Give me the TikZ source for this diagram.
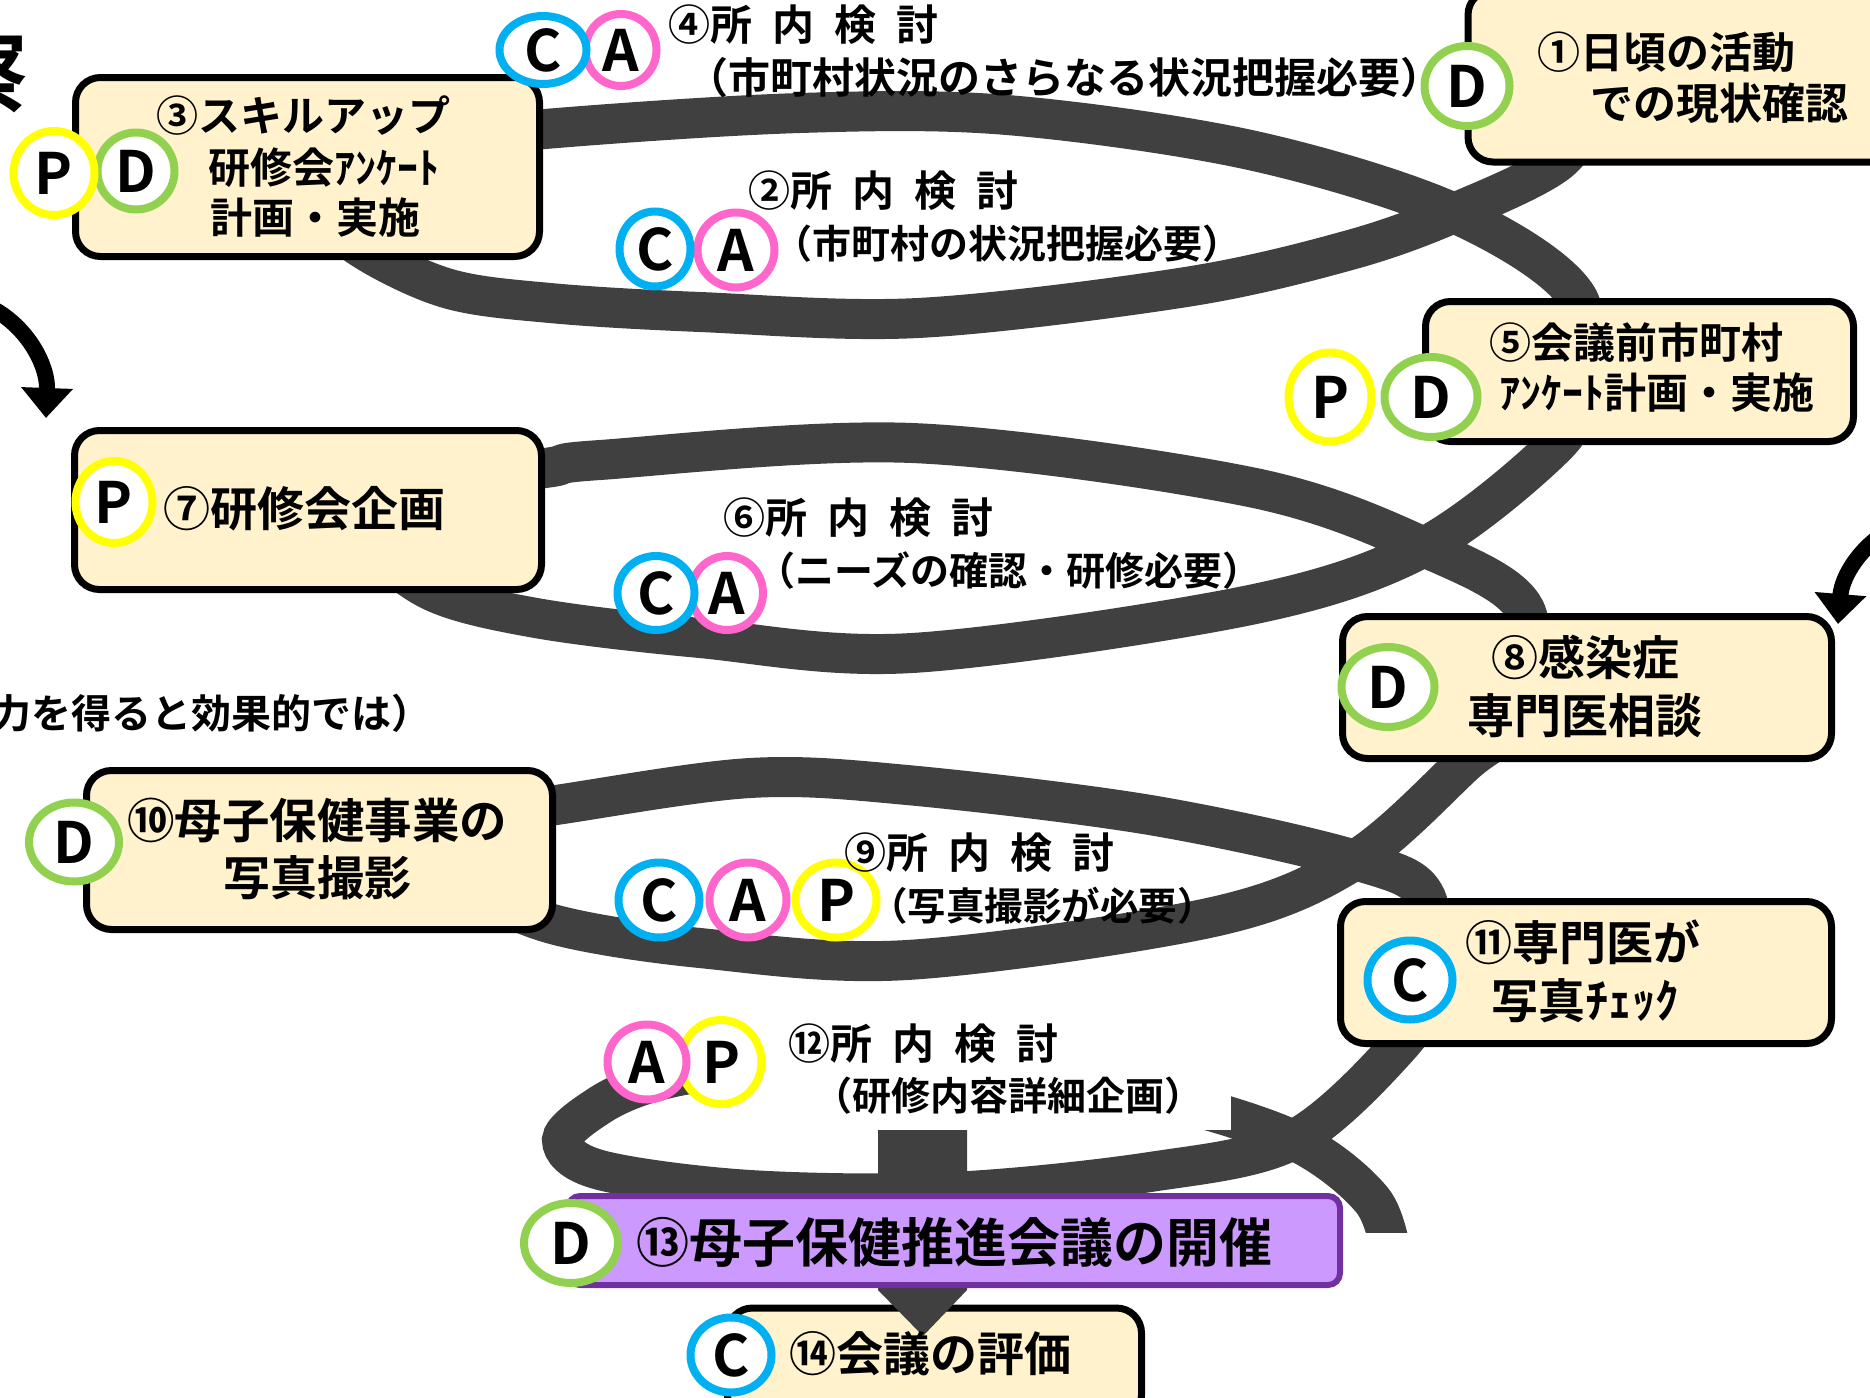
\documentclass[tikz,border=0pt]{standalone}
\usepackage{fontspec}
\newfontfamily\jpb{Noto Sans CJK JP Bold}
\usetikzlibrary{shapes.geometric,arrows.meta}
\definecolor{bandgray}{HTML}{404040}
\definecolor{cream}{HTML}{FFF2CC}
\definecolor{colC}{HTML}{00B0F0}
\definecolor{colA}{HTML}{FF66CC}
\definecolor{colP}{HTML}{FFFF00}
\definecolor{colD}{HTML}{92D050}
\definecolor{lilac}{HTML}{CC99FF}
\definecolor{purp}{HTML}{7030A0}
\newcommand\fsz[1]{\jpb\fontsize{#1}{#1}\selectfont}
\newcommand\kgap{\hspace{20pt}}
\begin{document}
\begin{tikzpicture}[x=1pt,y=-1pt,
  bandline/.style={draw=bandgray, line width=40pt},
  box/.style={draw=black, line width=7pt, fill=cream, rounded corners=25pt, inner sep=0pt},
  pdca/.style={ellipse, draw=#1, line width=8pt, fill=white, inner sep=0pt, font=\fsz{57}},
  lab/.style={inner sep=0pt, anchor=base west},
  labe/.style={inner sep=0pt, anchor=base east},
  blackarrow/.style={draw=black, line width=16pt, -{Triangle[length=30pt,width=50pt]}},
]
\useasboundingbox (0,0) rectangle (1870,1397);

% spiral band
\begin{scope}
\clip (-50,-50) rectangle (1920,1232);
\draw[bandline] plot[smooth, tension=0.55] coordinates {
 (1600,100) (1558,162) (1454,213) (1350,250) (1186,287) (918,318) (700,312) (550,303) (446,288) (357,245) (310,195) (360,150) (545,129) (800,113) (1007,115) (1250,150) (1454,213) (1577,297) (1570,400)
 (1556,445) (1424,547) (1250,605) (912,653) (700,638) (536,618) (430,590) (370,535) (400,485) (545,468) (600,460) (912,443) (1250,487) (1424,547) (1525,610) (1510,720)
 (1465,763) (1355,860) (1213,917) (907,960) (700,948) (556,925) (480,890) (460,850) (490,815) (556,805) (750,778) (907,785) (1150,815) (1355,860) (1426,898) (1420,1000)
 (1398,1047) (1293,1140) (1150,1172) (950,1192) (750,1190) (600,1170) (562,1140) (600,1105) (650,1083) (720,1070) (850,1063) (1000,1070) (1150,1095) (1293,1140) (1372,1200) (1392,1260)};
\end{scope}

% box 14 (under the arrow)
\node[box, minimum width=414pt, minimum height=112pt] (b14) at (934.5,1364) {};

% gray block arrow 12 -> 13 -> 14
\fill[bandgray] (878,1130) -- (967,1130) -- (967,1290) -- (923,1336) -- (878,1290) -- cycle;

% white panel behind item 12
\node[fill=white, inner sep=0pt, minimum width=491pt, minimum height=115pt] (w12) at (985.5,1072.5) {};

% boxes
\node[box, minimum width=428pt, minimum height=172pt] (b1) at (1682,76) {};
\node[box, minimum width=464pt, minimum height=179pt] (b3) at (307.5,167) {};
\node[box, minimum width=428pt, minimum height=140pt] (b5) at (1639.5,371.5) {};
\node[box, minimum width=467pt, minimum height=159pt] (b7) at (308,510) {};
\node[box, minimum width=489pt, minimum height=142pt] (b8) at (1587,687.5) {};
\node[box, minimum width=466pt, minimum height=159pt] (b10) at (319.5,850) {};
\node[box, minimum width=491pt, minimum height=142pt] (b11) at (1586,972.5) {};
\node[draw=purp, line width=6pt, fill=lilac, rounded corners=12pt, inner sep=0pt, minimum width=772pt, minimum height=89pt] (b13) at (954,1240.5) {};

% PDCA circles (right one first, left one on top)
\node[pdca=colD, minimum width=85pt, minimum height=80pt] (d1) at (1467,86) {D};
\node[pdca=colD, minimum width=77pt, minimum height=77pt] (d3) at (136,171) {D};
\node[pdca=colP, minimum width=81pt, minimum height=84pt] (p3) at (54,173) {P};
\node[pdca=colA, minimum width=71pt, minimum height=72pt] (a4) at (621,50) {A};
\node[pdca=colC, minimum width=87pt, minimum height=68pt] (c4) at (543,50) {C};
\node[pdca=colA, minimum width=77pt, minimum height=75pt] (a2) at (736,250) {A};
\node[pdca=colC, minimum width=71pt, minimum height=75pt] (c2) at (655,249) {C};
\node[pdca=colD, minimum width=93pt, minimum height=80pt] (d5) at (1431,397) {D};
\node[pdca=colP, minimum width=83pt, minimum height=89pt] (p5) at (1330,397) {P};
\node[pdca=colP, minimum width=77pt, minimum height=82pt] (p7) at (114,502) {P};
\node[pdca=colA, minimum width=72pt, minimum height=74pt] (a6) at (727,593) {A};
\node[pdca=colC, minimum width=77pt, minimum height=74pt] (c6) at (656,593) {C};
\node[pdca=colD, minimum width=93pt, minimum height=80pt] (d8) at (1388,687) {D};
\node[pdca=colD, minimum width=90pt, minimum height=79pt] (d10) at (74,842) {D};
\node[pdca=colP, minimum width=81pt, minimum height=75pt] (p9) at (836,900) {P};
\node[pdca=colA, minimum width=77pt, minimum height=75pt] (a9) at (748,900) {A};
\node[pdca=colC, minimum width=81pt, minimum height=75pt] (c9) at (659,900) {C};
\node[pdca=colC, minimum width=85pt, minimum height=79pt] (c11) at (1410,980) {C};
\node[pdca=colP, minimum width=81pt, minimum height=84pt] (p12) at (721,1062) {P};
\node[pdca=colA, minimum width=79pt, minimum height=75pt] (a12) at (647,1062) {A};
\node[pdca=colD, minimum width=94pt, minimum height=80pt] (d13) at (571,1243) {D};
\node[pdca=colC, minimum width=81pt, minimum height=75pt] (c14) at (731,1355) {C};

% texts
\node[lab, font=\fsz{43}] (t1a) at (1537,69) {①日頃の活動};
\node[lab, font=\fsz{43}] (t1b) at (1590,119) {での現状確認};
\node[lab, font=\fsz{42}] (t3a) at (156,131) {③スキルアップ};
\node[lab, font=\fsz{42}] (t3b) at (208,183) {研修会ｱﾝｹｰﾄ};
\node[lab, font=\fsz{42}] (t3c) at (210,233) {計画・実施};
\node[lab, font=\fsz{42}] (t4a) at (668,41) {④所\kgap 内\kgap 検\kgap 討};
\node[lab, font=\fsz{42}] (t4b) at (686,93) {（市町村状況のさらなる状況把握必要）};
\node[lab, font=\fsz{42}] (t2a) at (748,206) {②所\kgap 内\kgap 検\kgap 討};
\node[lab, font=\fsz{39}] (t2b) at (773,258) {（市町村の状況把握必要）};
\node[lab, font=\fsz{42}] (t5a) at (1489,358) {⑤会議前市町村};
\node[lab, font=\fsz{42}] (t5b) at (1499,408) {ｱﾝｹｰﾄ計画・実施};
\node[lab, font=\fsz{42}] (t6a) at (723,533) {⑥所\kgap 内\kgap 検\kgap 討};
\node[lab, font=\fsz{39}] (t6b) at (756,585) {（ニーズの確認・研修必要）};
\node[lab, font=\fsz{47}] (t7) at (163,526) {⑦研修会企画};
\node[lab, font=\fsz{47}] (t8a) at (1491,675) {⑧感染症};
\node[lab, font=\fsz{47}] (t8b) at (1467,733) {専門医相談};
\node[lab, font=\fsz{42}] (t9a) at (844,868) {⑨所\kgap 内\kgap 検\kgap 討};
\node[lab, font=\fsz{38.5}] (t9b) at (869,920) {（写真撮影が必要）};
\node[lab, font=\fsz{47.5}] (t10a) at (127,838) {⑩母子保健事業の};
\node[lab, font=\fsz{47}] (t10b) at (223,895) {写真撮影};
\node[lab, font=\fsz{47}] (t11a) at (1465,960) {⑪専門医が};
\node[lab, font=\fsz{47}] (t11b) at (1491,1018) {写真ﾁｪｯｸ};
\node[lab, font=\fsz{42}] (t12a) at (788,1059) {⑫所\kgap 内\kgap 検\kgap 討};
\node[lab, font=\fsz{39}] (t12b) at (813,1110) {（研修内容詳細企画）};
\node[lab, font=\fsz{53}] (t13) at (636,1262) {⑬母子保健推進会議の開催};
\node[lab, font=\fsz{47}] (t14) at (789,1371) {⑭会議の評価};
\node[labe, font=\fsz{40}] (tx) at (432,728) {力を得ると効果的では）};
\node[labe, font=\fsz{90}] (tk) at (29,106) {察};

% black curved arrows
\coordinate (la0) at (-20,303);
\coordinate (la1) at (46,418);
\draw[blackarrow] (la0) .. controls (22,318) and (48,362) .. (la1);
\coordinate (ra0) at (1890,530);
\coordinate (ra1) at (1838,624);
\draw[blackarrow] (ra0) .. controls (1862,545) and (1842,575) .. (ra1);
\end{tikzpicture}
\end{document}
